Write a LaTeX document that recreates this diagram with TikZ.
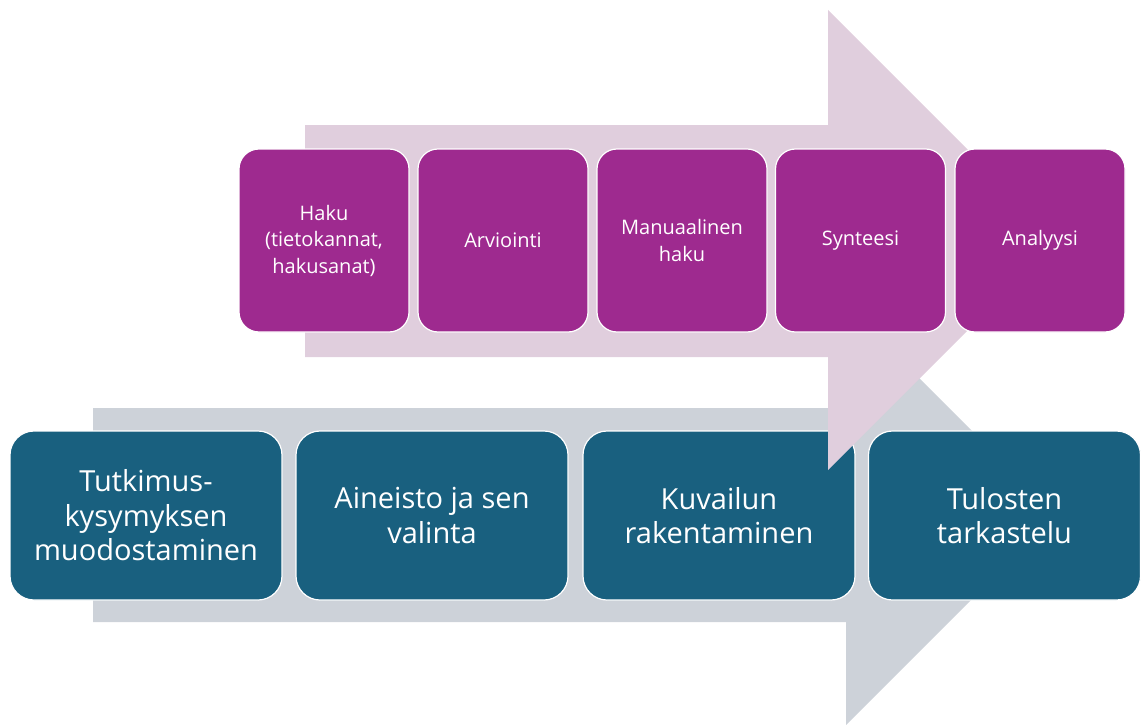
\documentclass[tikz,border=0pt]{standalone}
\usepackage{fontspec}
\setmainfont{Open Sans}
\definecolor{boxblue}{HTML}{19607F}
\definecolor{boxpurple}{HTML}{9E2A8F}
\definecolor{arrowpurple}{HTML}{E0CEDD}
\definecolor{arrowgray}{HTML}{CDD2D9}
\tikzset{
  bluebox/.style={rectangle, rounded corners=24pt, minimum width=272pt, minimum height=169pt,
    fill=boxblue, draw=white, line width=1.2pt, text=white, align=center, inner sep=0pt,
    font=\fontsize{29}{34.5}\selectfont},
  purplebox/.style={rectangle, rounded corners=20pt, minimum width=170pt, minimum height=183pt,
    fill=boxpurple, draw=white, line width=1.2pt, text=white, align=center, inner sep=0pt,
    font=\fontsize{20}{26.5}\selectfont},
  bigarrow/.style={draw=none}
}
\begin{document}
\begin{tikzpicture}[x=1pt,y=-1pt]
\useasboundingbox (0,0) rectangle (1141,725);
% gray arrow
\fill[arrowgray] (93,408) -- (846,408) -- (846,305) -- (1056,515) -- (846,725) -- (846,622) -- (93,622) -- cycle;
% blue boxes
\node[bluebox] (b1) at (146,515.5) {Tutkimus-\\kysymyksen\\muodostaminen};
\node[bluebox] (b2) at (432,515.5) {Aineisto ja sen\\valinta};
\node[bluebox] (b3) at (719,515.5) {Kuvailun\\rakentaminen};
\node[bluebox] (b4) at (1004.5,515.5) {Tulosten\\tarkastelu};
% purple arrow
\fill[arrowpurple] (305,125) -- (828,125) -- (828,10) -- (1058,240) -- (828,470) -- (828,357) -- (305,357) -- cycle;
% purple boxes
\node[purplebox] (p1) at (324,240.5) {Haku\\(tietokannat,\\hakusanat)};
\node[purplebox] (p2) at (503,240.5) {Arviointi};
\node[purplebox] (p3) at (682,240.5) {Manuaalinen\\haku};
\node[purplebox] (p4) at (860.5,240.5) {Synteesi};
\node[purplebox] (p5) at (1040,240.5) {Analyysi};
\end{tikzpicture}
\end{document}
